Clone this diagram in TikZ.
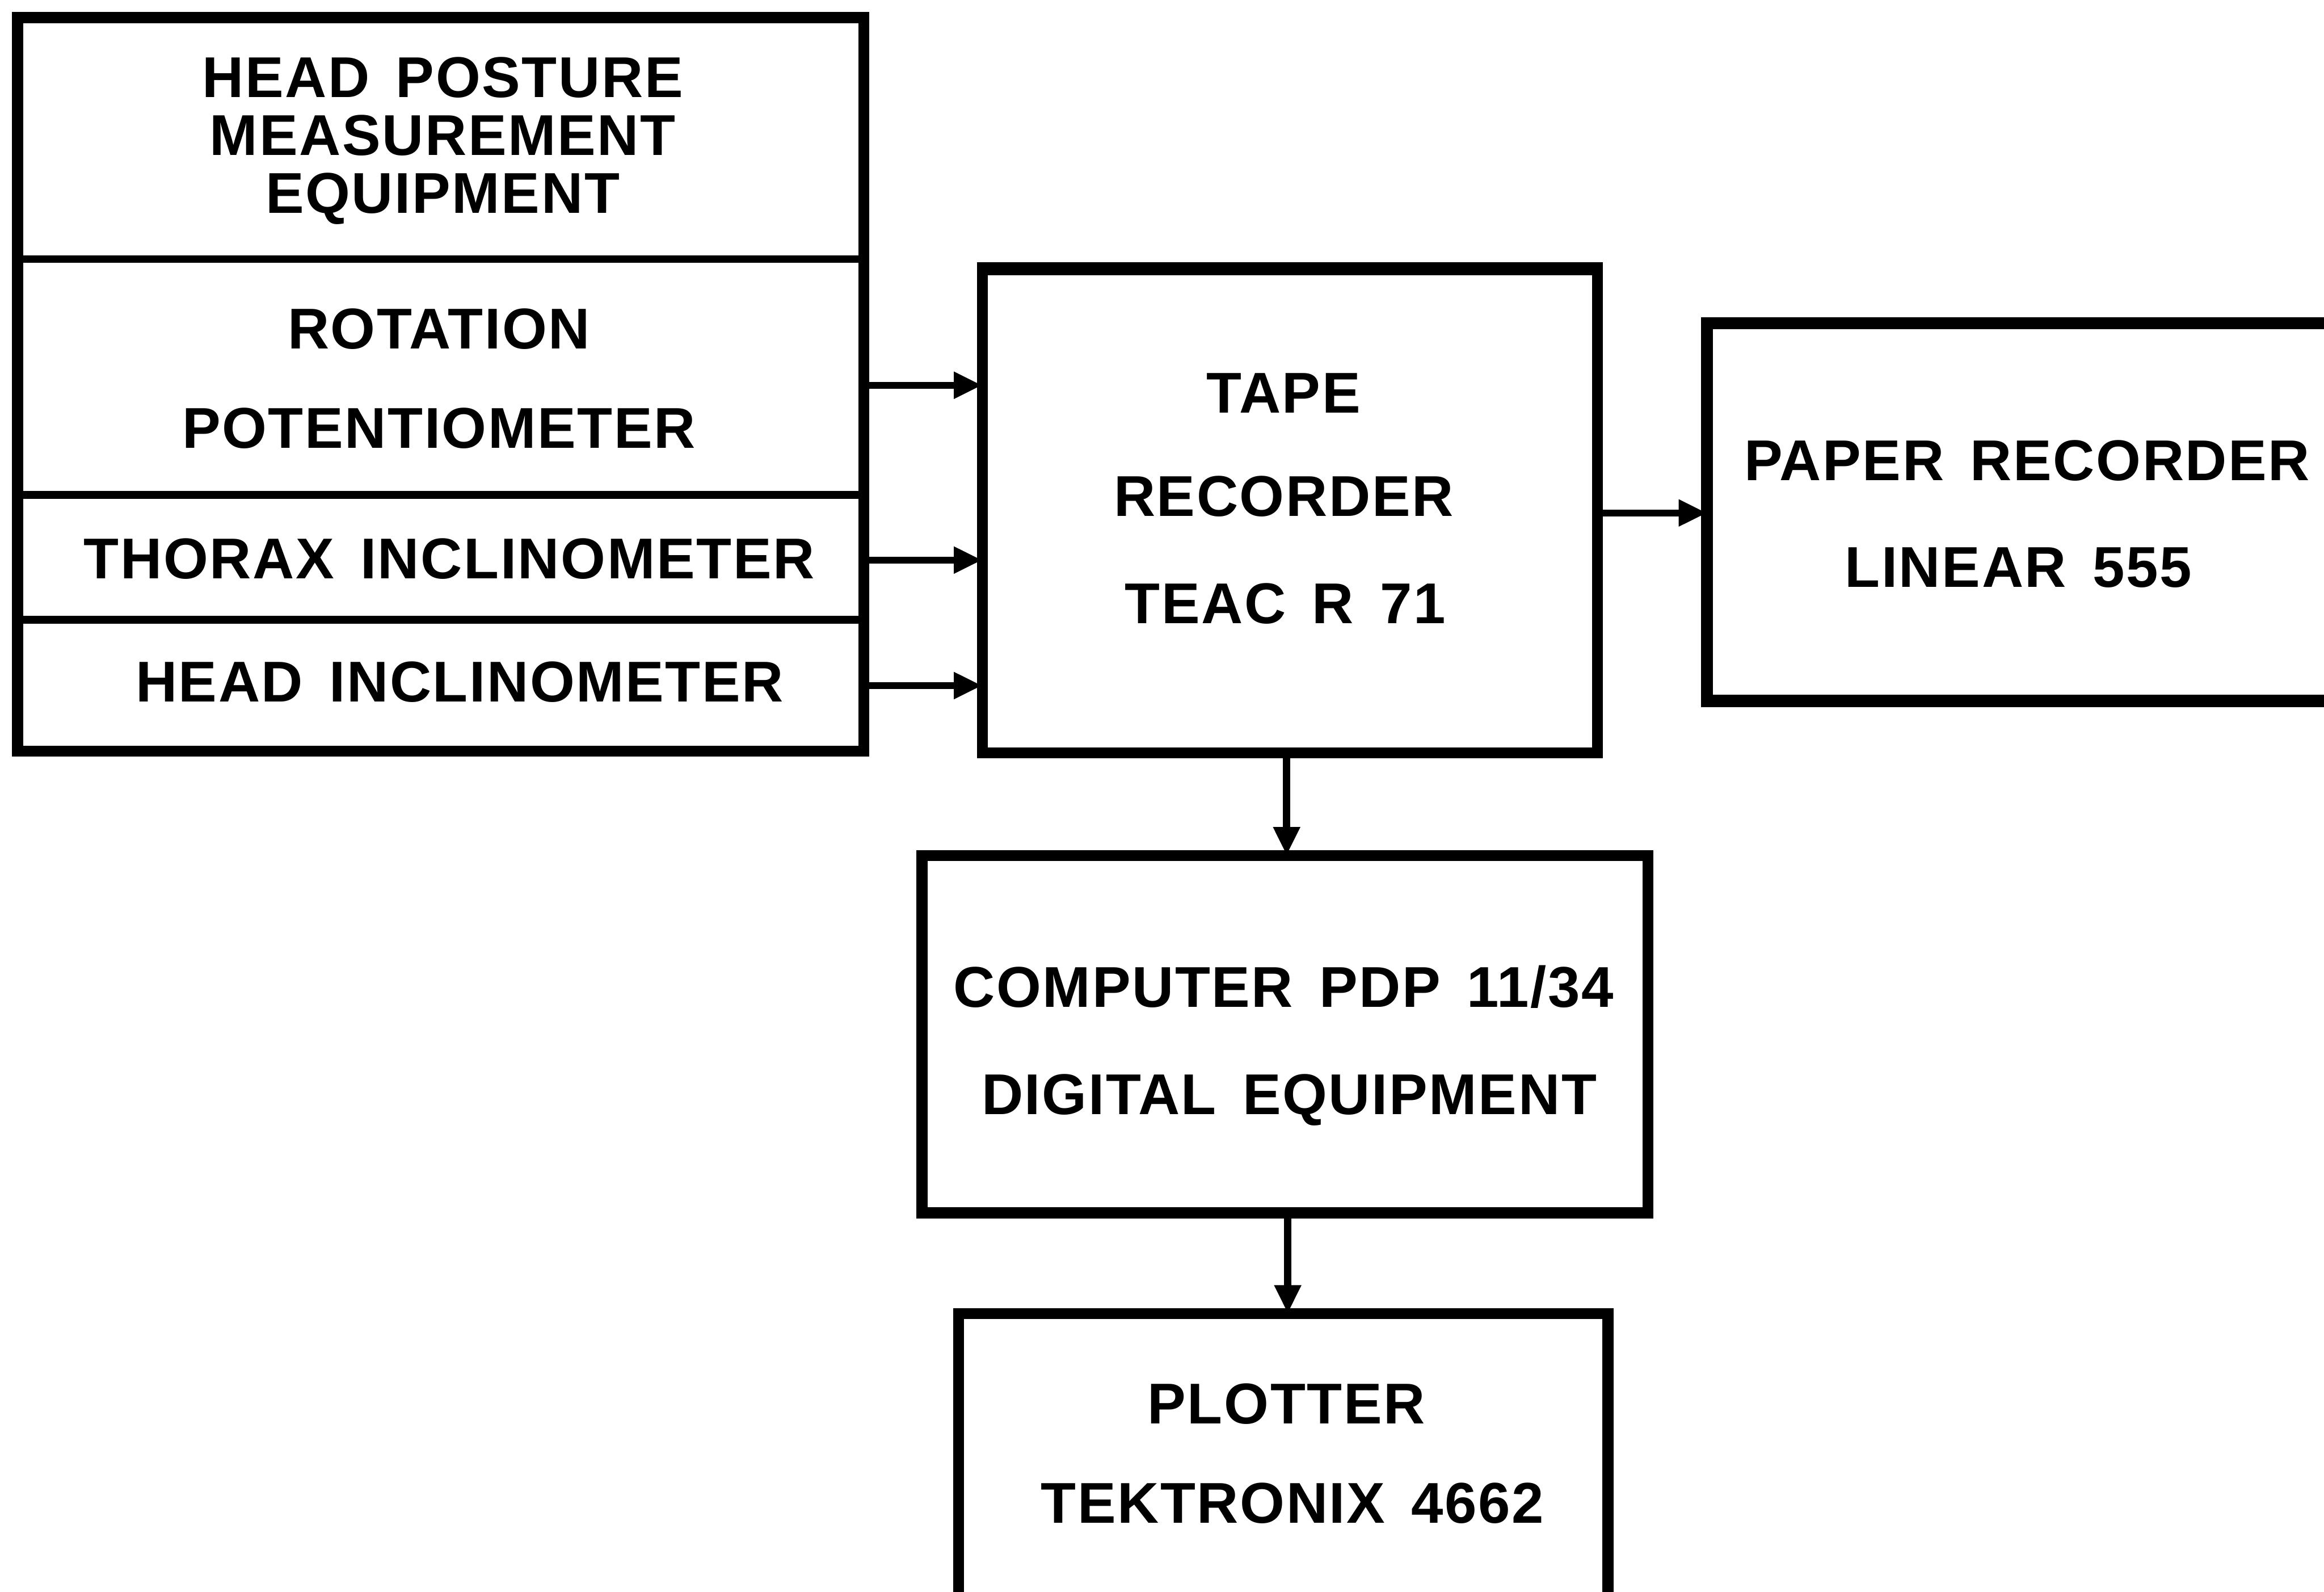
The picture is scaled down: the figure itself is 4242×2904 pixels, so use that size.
\documentclass[tikz,border=0pt]{standalone}
\usepackage{fontspec}
\setmainfont{Liberation Sans}
\newfontfamily\lblfont[LetterSpace=2.6,WordSpace=1.5]{Liberation Sans}
\usetikzlibrary{arrows.meta}
\begin{document}
\begin{tikzpicture}[x=1pt,y=-1pt,
  box/.style={draw,line width=20pt,inner sep=0pt,outer sep=0pt},
  sec/.style={inner sep=0pt,outer sep=0pt},
  divider/.style={line width=14pt},
  lbl/.style={font=\lblfont\fontsize{105}{106}\selectfont\bfseries,align=center,inner sep=0pt},
  arr/.style={line width=13pt,-{Triangle[length=52pt,width=46pt]}}]
\clip (0,0) rectangle (4242,2904);
\fill[white] (0,0) rectangle (4242,2904);
% left block
\node[box,minimum width=1545pt,minimum height=1339pt] (hpm) at (804.5,701.5) {};
\node[sec,minimum width=1545pt,minimum height=430pt] (rot) at (804.5,688) {};
\node[sec,minimum width=1545pt,minimum height=228pt] (thx) at (804.5,1017) {};
\node[sec,minimum width=1545pt,minimum height=240pt] (hin) at (804.5,1251) {};
\draw[divider] (rot.north west) -- (rot.north east);
\draw[divider] (thx.north west) -- (thx.north east);
\draw[divider] (hin.north west) -- (hin.north east);
\node[lbl] (t1) at (808,257) {HEAD POSTURE\\MEASUREMENT\\EQUIPMENT};
\node[lbl] (t2) at (801,600) {ROTATION};
\node[lbl] (t3) at (801,782) {POTENTIOMETER};
\node[lbl] (t4) at (820,1020) {THORAX INCLINOMETER};
\node[lbl] (t5) at (839,1244) {HEAD INCLINOMETER};
% tape recorder
\node[box,minimum width=1123pt,minimum height=884pt] (tape) at (2354.5,932) {};
\draw[line width=24pt] ([xshift=-10pt]tape.north west) -- ([xshift=10pt]tape.north east);
\node[lbl] (t6) at (2343,717) {TAPE};
\node[lbl] (t7) at (2343,906) {RECORDER};
\node[lbl] (t8) at (2346,1101) {TEAC R 71};
% paper recorder
\node[box,line width=22pt,minimum width=1174pt,minimum height=689pt] (paper) at (3703,934.5) {};
\node[lbl] (t9) at (3700,841) {PAPER RECORDER};
\node[lbl] (t10) at (3684,1036) {LINEAR 555};
% computer
\node[box,minimum width=1325pt,minimum height=652pt] (comp) at (2345.5,1887) {};
\node[lbl] (t11) at (2343,1801) {COMPUTER PDP 11/34};
\node[lbl] (t12) at (2353,2007) {DIGITAL EQUIPMENT};
% plotter
\node[box,minimum width=1185pt,minimum height=538pt] (plot) at (2342.5,2666) {};
\node[lbl] (t13) at (2348,2562) {PLOTTER};
\node[lbl] (t14) at (2359,2743) {TEKTRONIX 4662};
% arrows
\draw[arr] ([yshift=-15pt]rot.east) -- ([yshift=-15pt]rot.east -| tape.west);
\draw[arr] ([yshift=-5pt]thx.east) -- ([yshift=-5pt]thx.east -| tape.west);
\draw[arr] (hin.east) -- (hin.east -| tape.west);
\draw[arr] ([yshift=-4pt]tape.east) -- ([yshift=-4pt]tape.east -| paper.west);
\draw[arr] ([xshift=-6pt]tape.south) -- ([xshift=-6pt]tape.south |- comp.north);
\draw[arr] ([xshift=5pt]comp.south) -- ([xshift=5pt]comp.south |- plot.north);
\end{tikzpicture}
\end{document}
